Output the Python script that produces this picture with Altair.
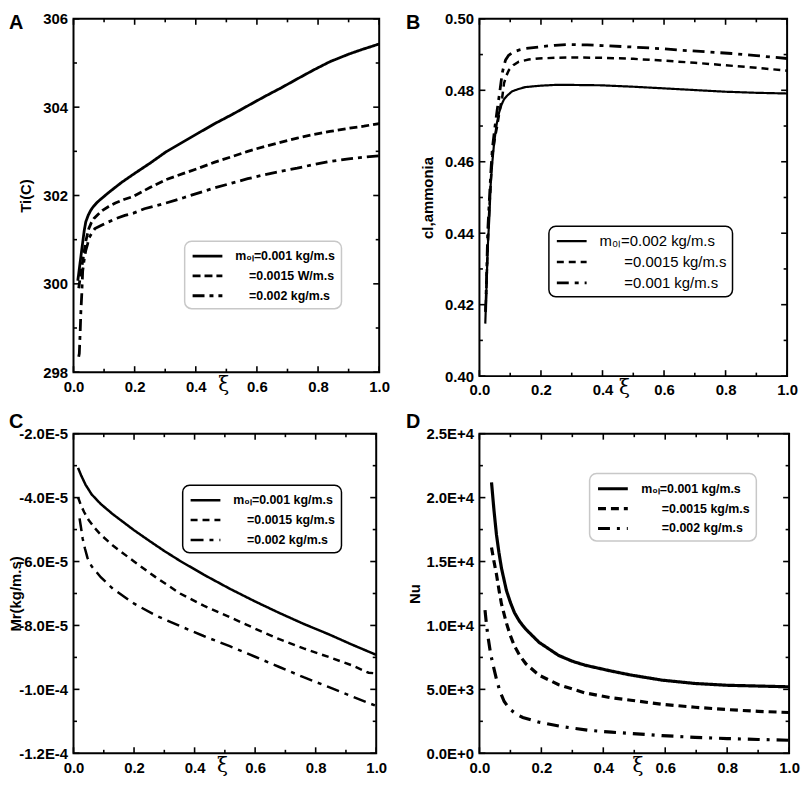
import altair as alt
import pandas as pd

FONT = "Liberation Sans"
IND = "\u200b" + "\u00a0"   # zero-width start keeps the indentation from being trimmed

XI_MAJOR = [0.0, 0.2, 0.4, 0.6, 0.8, 1.0]
XI_MINOR = [0.1, 0.3, 0.5, 0.7, 0.9]

# ---------------- Panel A : Ti(C) ----------------
A_labels = ["m₀ₗ=0.001 kg/m.s", IND + "\u00a0" * 3 + "=0.0015 W/m.s", IND + "\u00a0" * 3 + "=0.002 kg/m.s"]
A_x_solid = [0.014, 0.022, 0.029, 0.035, 0.04, 0.048, 0.056, 0.065, 0.078, 0.1, 0.121, 0.158, 0.2, 0.25,
             0.303, 0.36, 0.41, 0.46, 0.518, 0.57, 0.625, 0.68, 0.732, 0.785, 0.839, 0.9, 0.95, 1.0]
A_y_solid = [300.07, 300.5, 300.88, 301.2, 301.4, 301.55, 301.66, 301.75, 301.85, 301.98, 302.1, 302.3, 302.5,
             302.73, 302.99, 303.22, 303.42, 303.62, 303.83, 304.03, 304.24, 304.44, 304.64, 304.84, 305.03,
             305.2, 305.32, 305.43]
A_x_dash = [0.017, 0.024, 0.03, 0.04, 0.05, 0.058, 0.067, 0.08, 0.094, 0.115, 0.137, 0.165, 0.196, 0.25,
            0.303, 0.36, 0.41, 0.46, 0.518, 0.57, 0.625, 0.68, 0.732, 0.785, 0.839, 0.9, 0.95, 1.0]
A_y_dash = [299.9, 300.25, 300.51, 300.96, 301.25, 301.38, 301.48, 301.57, 301.66, 301.75, 301.83, 301.91,
            301.98, 302.18, 302.36, 302.5, 302.62, 302.75, 302.88, 303.0, 303.11, 303.21, 303.3, 303.38,
            303.45, 303.52, 303.57, 303.63]
A_x_dd = [0.017, 0.019, 0.022, 0.024, 0.027, 0.03, 0.035, 0.04, 0.046, 0.05, 0.06, 0.07, 0.09, 0.114, 0.14,
          0.168, 0.196, 0.232, 0.27, 0.303, 0.36, 0.41, 0.46, 0.518, 0.57, 0.625, 0.68, 0.732, 0.785, 0.839,
          0.9, 0.95, 1.0]
A_y_dd = [298.35, 298.42, 298.94, 299.35, 299.76, 300.29, 300.55, 300.75, 300.9, 301.03, 301.15, 301.25,
          301.32, 301.4, 301.48, 301.55, 301.6, 301.7, 301.77, 301.83, 301.95, 302.06, 302.17, 302.28,
          302.38, 302.47, 302.55, 302.62, 302.7, 302.77, 302.83, 302.87, 302.9]
A_y_major = [298, 300, 302, 304, 306]
A_y_minor = [299, 301, 303, 305]

# ---------------- Panel B : cl,ammonia ----------------
B_labels = ["m₀ₗ=0.002 kg/m.s", IND + "\u00a0" * 5 + "=0.0015 kg/m.s", IND + "\u00a0" * 5 + "=0.001 kg/m.s"]
B_x_solid = [0.019, 0.023, 0.027, 0.032, 0.037, 0.042, 0.048, 0.056, 0.064, 0.072, 0.08, 0.09, 0.106, 0.125,
             0.149, 0.2, 0.245, 0.3, 0.394, 0.5, 0.608, 0.714, 0.8, 0.9, 1.0]
B_y_solid = [0.4147, 0.425, 0.436, 0.4441, 0.4544, 0.46, 0.4655, 0.4705, 0.4738, 0.476, 0.4775, 0.4785,
             0.4797, 0.4803, 0.4809, 0.4813, 0.4815, 0.4815, 0.4814, 0.481, 0.4805, 0.48, 0.4796, 0.4793,
             0.4791]
B_x_dash = [0.02, 0.025, 0.03, 0.036, 0.042, 0.05, 0.058, 0.066, 0.074, 0.08, 0.088, 0.096, 0.11, 0.128,
            0.16, 0.192, 0.25, 0.3, 0.4, 0.5, 0.6, 0.7, 0.8, 0.9, 1.0]
B_y_dash = [0.418, 0.4314, 0.443, 0.453, 0.4618, 0.4665, 0.4701, 0.4745, 0.478, 0.482, 0.4842, 0.4857,
            0.487, 0.488, 0.4886, 0.4889, 0.4891, 0.4892, 0.4891, 0.4888, 0.4883, 0.4877, 0.487, 0.4863,
            0.4855]
B_x_dd = [0.02, 0.024, 0.027, 0.032, 0.037, 0.042, 0.05, 0.058, 0.066, 0.074, 0.08, 0.085, 0.095, 0.112,
          0.13, 0.149, 0.2, 0.245, 0.288, 0.35, 0.4, 0.5, 0.6, 0.66, 0.75, 0.82, 0.9, 1.0]
B_y_dd = [0.418, 0.43, 0.4406, 0.449, 0.457, 0.4637, 0.4695, 0.4747, 0.4795, 0.4848, 0.487, 0.4885, 0.4898,
          0.4908, 0.4913, 0.4917, 0.4922, 0.4926, 0.4928, 0.4927, 0.4925, 0.4921, 0.4916, 0.4912, 0.4907,
          0.4903, 0.4897, 0.4889]
B_y_major = [0.40, 0.42, 0.44, 0.46, 0.48, 0.50]
B_y_minor = [0.41, 0.43, 0.45, 0.47, 0.49]

# ---------------- Panel C : Mr(kg/m.s) ----------------
C_labels = ["m₀ₗ=0.001 kg/m.s", IND + "\u00a0" * 3 + "=0.0015 kg/m.s", IND + "\u00a0" * 3 + "=0.002 kg/m.s"]
C_x_solid = [0.015, 0.025, 0.04, 0.06, 0.09, 0.13, 0.2, 0.25, 0.3, 0.352, 0.43, 0.516, 0.6, 0.68, 0.76,
             0.844, 0.92, 1.0]
C_y_solid = [-3.07e-5, -3.3e-5, -3.6e-5, -3.9e-5, -4.2e-5, -4.52e-5, -5.02e-5, -5.35e-5, -5.67e-5,
             -5.98e-5, -6.41e-5, -6.85e-5, -7.25e-5, -7.61e-5, -7.95e-5, -8.28e-5, -8.6e-5, -8.92e-5]
C_x_dash = [0.015, 0.025, 0.035, 0.05, 0.07, 0.09, 0.13, 0.2, 0.27, 0.352, 0.43, 0.516, 0.6, 0.68, 0.76,
            0.844, 0.92, 0.975, 1.0]
C_y_dash = [-3.99e-5, -4.25e-5, -4.45e-5, -4.7e-5, -4.95e-5, -5.16e-5, -5.5e-5, -6.0e-5, -6.48e-5, -7.0e-5,
            -7.38e-5, -7.74e-5, -8.1e-5, -8.43e-5, -8.72e-5, -8.99e-5, -9.25e-5, -9.48e-5, -9.5e-5]
C_x_dd = [0.02, 0.025, 0.03, 0.038, 0.046, 0.06, 0.09, 0.13, 0.199, 0.27, 0.352, 0.43, 0.516, 0.6, 0.68,
          0.76, 0.844, 0.92, 1.0]
C_y_dd = [-4.65e-5, -4.95e-5, -5.27e-5, -5.6e-5, -5.88e-5, -6.15e-5, -6.49e-5, -6.85e-5, -7.31e-5, -7.68e-5,
          -8.02e-5, -8.33e-5, -8.65e-5, -8.98e-5, -9.3e-5, -9.62e-5, -9.93e-5, -10.22e-5, -10.52e-5]
C_y_major = [-2.0e-5, -4.0e-5, -6.0e-5, -8.0e-5, -1.0e-4, -1.2e-4]
C_y_minor = [-3.0e-5, -5.0e-5, -7.0e-5, -9.0e-5, -1.1e-4]

# ---------------- Panel D : Nu ----------------
D_labels = ["m₀ₗ=0.001 kg/m.s", IND + "\u00a0" * 5 + "=0.0015 kg/m.s", IND + "\u00a0" * 5 + "=0.002 kg/m.s"]
D_x_solid = [0.039, 0.047, 0.055, 0.063, 0.071, 0.087, 0.1, 0.113, 0.13, 0.15, 0.193, 0.256, 0.3, 0.341,
             0.426, 0.489, 0.59, 0.696, 0.8, 0.9, 1.0]
D_y_solid = [21200, 19000, 17100, 15700, 14500, 12750, 11800, 11000, 10300, 9700, 8670, 7650, 7200, 6890,
             6430, 6120, 5720, 5460, 5320, 5260, 5200]
D_x_dash = [0.039, 0.047, 0.055, 0.063, 0.071, 0.087, 0.1, 0.113, 0.13, 0.15, 0.193, 0.256, 0.341, 0.426,
            0.489, 0.59, 0.696, 0.8, 0.9, 1.0]
D_y_dash = [16100, 15000, 14000, 12800, 11700, 10200, 9200, 8400, 7650, 7000, 6100, 5360, 4720, 4340, 4150,
            3830, 3600, 3420, 3280, 3190]
D_x_dd = [0.018, 0.023, 0.029, 0.036, 0.044, 0.055, 0.066, 0.08, 0.098, 0.12, 0.14, 0.193, 0.267, 0.352,
          0.426, 0.489, 0.59, 0.696, 0.8, 0.9, 1.0]
D_y_dd = [11200, 10000, 8900, 7800, 6900, 5800, 4850, 4050, 3450, 3050, 2800, 2430, 2090, 1800, 1650, 1550,
          1380, 1250, 1150, 1080, 1020]
D_y_major = [0, 5000, 10000, 15000, 20000, 25000]
D_y_minor = [2500, 7500, 12500, 17500, 22500]

E_FMT = "replace(replace(format(datum.value, '.1e'), 'e', 'E'), '\u2212', '-')"


def series_df(xs_list, ys_list, labels):
    rows = []
    for xs, ys, lab in zip(xs_list, ys_list, labels):
        for x, y in zip(xs, ys):
            rows.append({"xi": x, "val": y, "series": lab})
    return pd.DataFrame(rows)


def edge_ticks(values, lo, hi, length):
    """Inward tick segments (in data units) on both edges for each tick value."""
    rows = []
    for v in values:
        rows.append({"v": v, "a": lo, "b": lo + length})
        rows.append({"v": v, "a": hi, "b": hi - length})
    return pd.DataFrame(rows)


def panel(letter, title_dx, title_offset, df, labels, dashes, widths, ydom, ymajor, yminor,
          ytitle, ylabel_expr, yext, ytp, w, h, leg_x, leg_y, leg_stroke, leg_font, leg_weight,
          xi_frac):
    xdom = [0.0, 1.0]
    xs = alt.Scale(domain=xdom, nice=False, zero=False)
    ys = alt.Scale(domain=ydom, nice=False, zero=False)
    xaxis = alt.Axis(values=XI_MAJOR, format=".1f", labelFlush=False, labelOverlap=False, ticks=False,
                     domain=False, grid=False, labelFont=FONT, labelFontSize=15, labelFontWeight="bold",
                     labelPadding=7, labelColor="black", title="ξ", titleFont="DejaVu Serif",
                     titleFontSize=20, titleFontWeight="normal", titleColor="black",
                     titleX=w * xi_frac, titleY=2, titleBaseline="top")
    yaxis = alt.Axis(values=ymajor, labelExpr=ylabel_expr, ticks=False, domain=False, grid=False,
                     labelFont=FONT, labelFontSize=15, labelFontWeight="bold", labelPadding=6,
                     labelOverlap=False, labelFlush=False, labelColor="black", title=ytitle,
                     titleFont=FONT, titleFontSize=15, titleFontWeight="bold", titleColor="black",
                     titlePadding=ytp, minExtent=yext, maxExtent=yext)
    leg = alt.Legend(title=None, orient="none", legendX=leg_x, legendY=leg_y, fillColor="white",
                     strokeColor=leg_stroke, cornerRadius=7, padding=6, symbolType="M-2,0H2",
                     symbolSize=225, symbolOffset=8, symbolStrokeColor="black", labelFont=FONT,
                     labelFontSize=leg_font, labelFontWeight=leg_weight, labelColor="black",
                     labelLimit=400, rowPadding=4, labelOffset=19)
    lines = alt.Chart(df).mark_line(color="black", clip=True).encode(
        x=alt.X("xi:Q", scale=xs, axis=xaxis),
        y=alt.Y("val:Q", scale=ys, axis=yaxis),
        strokeDash=alt.StrokeDash("series:N", scale=alt.Scale(domain=labels, range=dashes), legend=leg),
        strokeWidth=alt.StrokeWidth("series:N", scale=alt.Scale(domain=labels, range=widths), legend=leg),
    )
    xper = (xdom[1] - xdom[0]) / w
    yper = (ydom[1] - ydom[0]) / h
    layers = []
    for vals, ln in ((ymajor, 6), (yminor, 3.5)):
        layers.append(alt.Chart(edge_ticks(vals, xdom[0], xdom[1], ln * xper)).mark_rule(
            color="black", strokeWidth=1.6).encode(
            y=alt.Y("v:Q", scale=ys, axis=yaxis), x=alt.X("a:Q", scale=xs, axis=xaxis),
            x2=alt.X2("b")))
    for vals, ln in ((XI_MAJOR, 6), (XI_MINOR, 3.5)):
        layers.append(alt.Chart(edge_ticks(vals, ydom[0], ydom[1], ln * yper)).mark_rule(
            color="black", strokeWidth=1.6).encode(
            x=alt.X("v:Q", scale=xs, axis=xaxis), y=alt.Y("a:Q", scale=ys, axis=yaxis),
            y2=alt.Y2("b")))
    layers.append(lines)
    return alt.layer(*layers).properties(
        width=w, height=h,
        title=alt.TitleParams(text=letter, anchor="start", frame="group", dx=title_dx,
                              offset=title_offset, baseline="top", font=FONT, fontSize=20,
                              fontWeight="bold", color="black"),
    )


pA = panel("A", -65, -21,
           series_df([A_x_solid, A_x_dash, A_x_dd], [A_y_solid, A_y_dash, A_y_dd], A_labels),
           A_labels, [[1, 0], [8, 4], [12, 5, 4, 5]], [2.8, 2.8, 3.5], [298, 306], A_y_major, A_y_minor,
           "Ti(C)", "format(datum.value, 'd')", 35, 5, 308, 356, 112, 224, "#c8c8c8", 12.5, "bold", 0.49)

pB = panel("B", -74, -21,
           series_df([B_x_solid, B_x_dash, B_x_dd], [B_y_solid, B_y_dash, B_y_dd], B_labels),
           B_labels, [[1, 0], [7, 5], [12, 6, 4, 6]], [2.2, 2.8, 4.0], [0.40, 0.50], B_y_major, B_y_minor,
           "cl,ammonia", "format(datum.value, '.2f')", 38, 6, 310, 360, 70, 209, "black", 15, "normal", 0.47)

pC = panel("C", -65, -5,
           series_df([C_x_solid, C_x_dash, C_x_dd], [C_y_solid, C_y_dash, C_y_dd], C_labels),
           C_labels, [[1, 0], [7, 5], [13, 6, 4, 6]], [2.5, 2.5, 4.0], [-1.2e-4, -2.0e-5], C_y_major,
           C_y_minor, "Mr(kg/m.s)", E_FMT, 47, 3, 305, 322, 110, 52, "black", 12.5, "bold", 0.49)

pD = panel("D", -74, -5,
           series_df([D_x_solid, D_x_dash, D_x_dd], [D_y_solid, D_y_dash, D_y_dd], D_labels),
           D_labels, [[1, 0], [8, 5], [12, 7, 3, 7]], [3.2, 3.2, 2.5], [0, 25000], D_y_major, D_y_minor,
           "Nu", E_FMT, 44, 13, 312, 322, 111, 40, "#c8c8c8", 12.5, "bold", 0.51)

chart = alt.concat(pA, pB, pC, pD, columns=2, bounds="flush",
                   spacing={"row": 58, "column": 101}).resolve_scale(
    strokeDash="independent", strokeWidth="independent"
).properties(padding=0, background="white").configure_view(
    stroke="black", strokeWidth=2
).configure_legend(strokeWidth=1.5)

chart.save("out.html", embed_options={"renderer": "svg", "actions": False})
